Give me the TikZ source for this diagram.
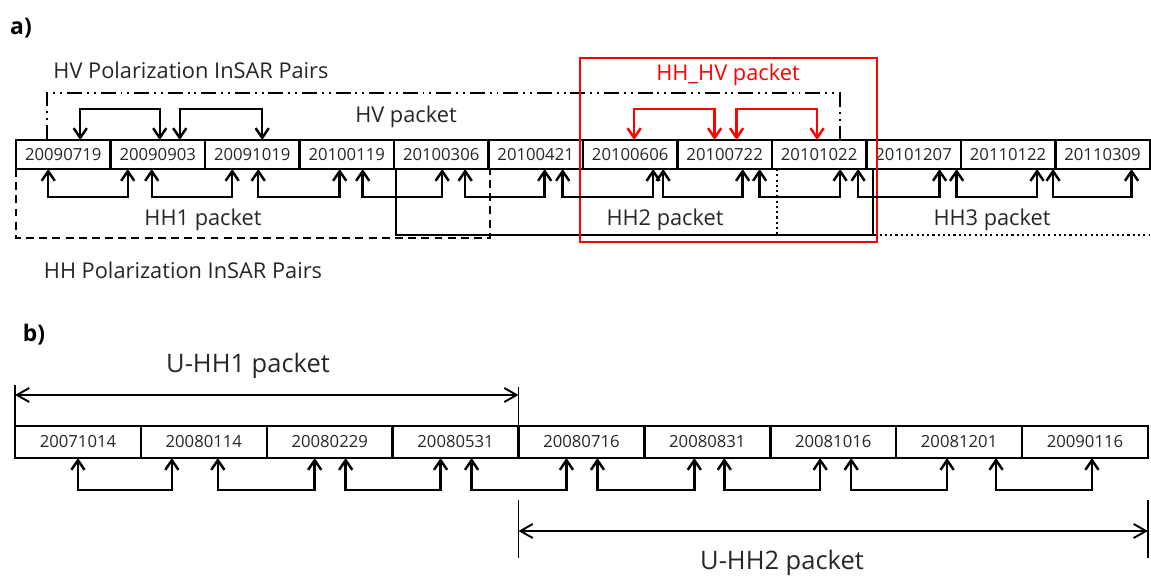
\documentclass[tikz,border=0pt]{standalone}
\usepackage{fontspec}
\setmainfont{Open Sans}
\usetikzlibrary{positioning,calc,arrows.meta}

\tikzset{
  datum/.style={draw, line width=1.4pt, minimum width=1.89cm, minimum height=0.58cm,
    inner sep=0pt, outer sep=0pt, text=black!85, font=\fontsize{9.5}{11}\selectfont},
  datumb/.style={datum, minimum width=2.518cm, minimum height=0.64cm},
  pfeil/.style={line width=1.4pt, {Straight Barb[length=5.5pt,width=7.5pt]}-{Straight Barb[length=5.5pt,width=7.5pt]}},
  rotpfeil/.style={pfeil, red},
  spanne/.style={line width=1.1pt, {Straight Barb[length=7pt,width=8pt]}-{Straight Barb[length=7pt,width=8pt]}},
  etikett/.style={text=black!85, font=\fontsize{12.4}{14}\selectfont},
  teil/.style={font=\fontsize{13}{15}\selectfont\bfseries}
}

\begin{document}
\begin{tikzpicture}[x=0.02cm, y=0.02cm]
\useasboundingbox (0,0) rectangle (1151,-578);

% Teil a):
\node[teil] (ta) at (21,-28) {a)};
\node[etikett] (hvpaare) at (191,-70) {HV Polarization InSAR Pairs};
\node[etikett] (hvpaket) at (406,-117) {HV packet};
\node[etikett, text=red] (hhhv) at (728,-75) {HH\_HV packet};
\node[etikett] (hh1) at (203,-220) {HH1 packet};
\node[etikett] (hh2) at (665,-220) {HH2 packet};
\node[etikett] (hh3) at (992,-220) {HH3 packet};
\node[etikett] (hhpaare) at (183,-270) {HH Polarization InSAR Pairs};

% Datumskaesten a):
\node[datum] (a1) at (63.25,-154.5) {20090719};
\node[datum, right=0pt of a1] (a2) {20090903};
\node[datum, right=0pt of a2] (a3) {20091019};
\node[datum, right=0pt of a3] (a4) {20100119};
\node[datum, right=0pt of a4] (a5) {20100306};
\node[datum, right=0pt of a5] (a6) {20100421};
\node[datum, right=0pt of a6] (a7) {20100606};
\node[datum, right=0pt of a7] (a8) {20100722};
\node[datum, right=0pt of a8] (a9) {20101022};
\node[datum, right=0pt of a9] (a10) {20101207};
\node[datum, right=0pt of a10] (a11) {20110122};
\node[datum, right=0pt of a11] (a12) {20110309};

% Rahmen:
\draw[line width=1.3pt, dash pattern=on 8.5pt off 2.8pt on 1.1pt off 2.8pt on 1.1pt off 2.8pt]
  (47,-140) -- (47,-93) -- (840,-93) -- (840,-140); % HV
\draw[line width=1.3pt, dash pattern=on 4.5pt off 3pt] (16,-169) -- (16,-238) -- (490,-238) -- (490,-169); % HH1
\draw[line width=1.3pt] (396,-169) -- (396,-235) -- (873,-235) -- (873,-169); % HH2
\draw[line width=1.3pt, dash pattern=on 1.2pt off 1.8pt] (777,-169) -- (777,-235) -- (1150,-235); % HH3
\draw[red, line width=1.4pt] (580,-58) rectangle (877,-242); % HH_HV

% HV Paare:
\draw[pfeil] ($(a1.north)+(17,0)$) -- ++(0,31) -| ($(a2.north)+(2,0)$);
\draw[pfeil] ($(a2.north)+(22,0)$) -- ++(0,31) -| ($(a3.north)+(10,0)$);
\draw[rotpfeil] ($(a7.north)+(4,0)$) -- ++(0,31) -| ($(a8.north)+(-10,0)$);
\draw[rotpfeil] ($(a8.north)+(12,0)$) -- ++(0,31) -| ($(a9.north)+(-2,0)$);

% HH Paare:
\draw[pfeil] ($(a1.south)+(-15,0)$) -- ++(0,-28) -| ($(a2.south)+(-30,0)$);
\draw[pfeil] ($(a2.south)+(-6,0)$) -- ++(0,-28) -| ($(a3.south)+(-20,0)$);
\draw[pfeil] ($(a3.south)+(6,0)$) -- ++(0,-28) -| ($(a4.south)+(-7,0)$);
\draw[pfeil] ($(a4.south)+(16,0)$) -- ++(0,-28) -| ($(a5.south)+(1,0)$);
\draw[pfeil] ($(a5.south)+(24,0)$) -- ++(0,-28) -| ($(a6.south)+(9,0)$);
\draw[pfeil] ($(a6.south)+(27,0)$) -- ++(0,-28) -| ($(a7.south)+(23,0)$);
\draw[pfeil] ($(a7.south)+(33,0)$) -- ++(0,-28) -| ($(a8.south)+(18,0)$);
\draw[pfeil] ($(a8.south)+(35,0)$) -- ++(0,-28) -| ($(a9.south)+(21,0)$);
\draw[pfeil] ($(a9.south)+(39,0)$) -- ++(0,-28) -| ($(a10.south)+(26,0)$);
\draw[pfeil] ($(a10.south)+(43,0)$) -- ++(0,-28) -| ($(a11.south)+(29,0)$);
\draw[pfeil] ($(a11.south)+(45,0)$) -- ++(0,-28) -| ($(a12.south)+(29,0)$);

% Teil b):
\node[teil] (tb) at (34,-335) {b)};
\node[etikett, font=\fontsize{14.5}{17}\selectfont] (uhh1) at (248,-366) {U-HH1 packet};
\node[etikett, font=\fontsize{14.5}{17}\selectfont] (uhh2) at (782,-563) {U-HH2 packet};

% Datumskaesten b):
\node[datumb] (b1) at (77.95,-442) {20071014};
\node[datumb, right=0pt of b1] (b2) {20080114};
\node[datumb, right=0pt of b2] (b3) {20080229};
\node[datumb, right=0pt of b3] (b4) {20080531};
\node[datumb, right=0pt of b4] (b5) {20080716};
\node[datumb, right=0pt of b5] (b6) {20080831};
\node[datumb, right=0pt of b6] (b7) {20081016};
\node[datumb, right=0pt of b7] (b8) {20081201};
\node[datumb, right=0pt of b8] (b9) {20090116};

% U-HH1 Spanne:
\draw[line width=1.1pt] (b1.north west) -- ++(0,41);
\draw[line width=1.1pt] (b4.north east) -- ++(0,39);
\draw[spanne] ($(b1.north west)+(0,31)$) -- ($(b4.north east)+(0,31)$);
% U-HH2 Spanne:
\draw[line width=1.1pt] ($(b5.south west)+(0,-42)$) -- ++(0,-58);
\draw[line width=1.1pt] ($(b9.south east)+(0,-42)$) -- ++(0,-58);
\draw[spanne] ($(b5.south west)+(0,-73)$) -- ($(b9.south east)+(0,-73)$);

% Paare b):
\draw[pfeil] ($(b1.south)+(0,0)$) -- ++(0,-32) -| ($(b2.south)+(-32,0)$);
\draw[pfeil] ($(b2.south)+(14,0)$) -- ++(0,-32) -| ($(b3.south)+(-15,0)$);
\draw[pfeil] ($(b3.south)+(16,0)$) -- ++(0,-32) -| ($(b4.south)+(-15,0)$);
\draw[pfeil] ($(b4.south)+(16,0)$) -- ++(0,-32) -| ($(b5.south)+(-15,0)$);
\draw[pfeil] ($(b5.south)+(16,0)$) -- ++(0,-32) -| ($(b6.south)+(-13,0)$);
\draw[pfeil] ($(b6.south)+(17,0)$) -- ++(0,-32) -| ($(b7.south)+(-13,0)$);
\draw[pfeil] ($(b7.south)+(18,0)$) -- ++(0,-32) -| ($(b8.south)+(-12,0)$);
\draw[pfeil] ($(b8.south)+(37,0)$) -- ++(0,-32) -| ($(b9.south)+(7,0)$);
\end{tikzpicture}
\end{document}
